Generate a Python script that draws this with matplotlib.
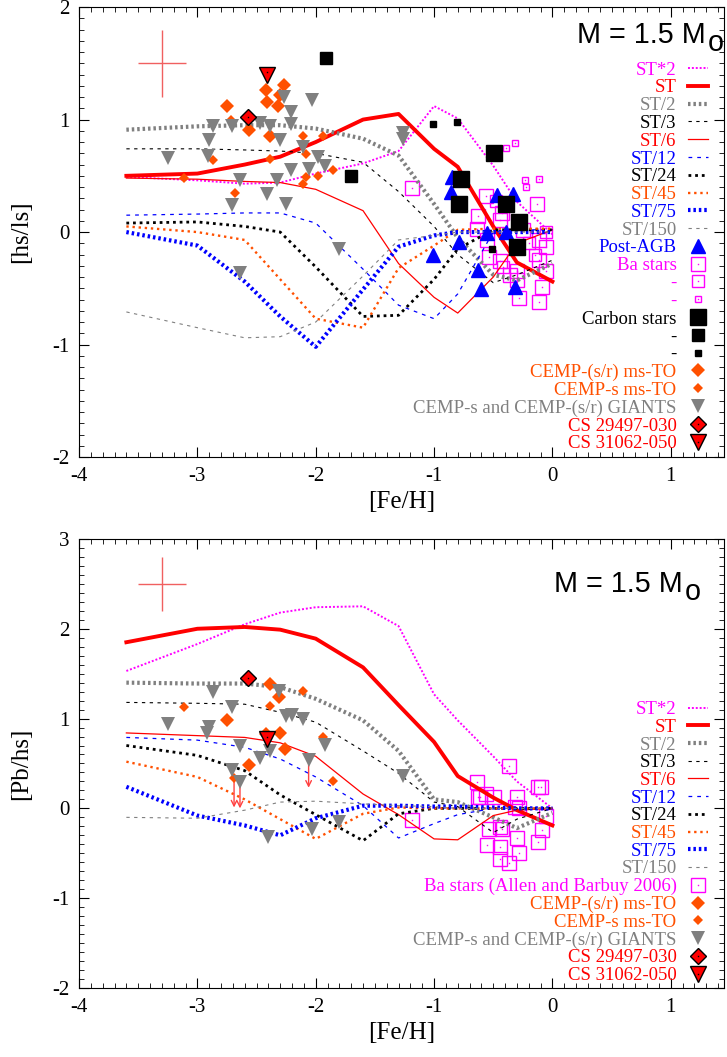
import numpy as np
import matplotlib
matplotlib.use("Agg")
import matplotlib.pyplot as plt

plt.rcParams['font.family'] = ['Liberation Serif', 'DejaVu Serif']
plt.rcParams['axes.unicode_minus'] = False

# model grid in [Fe/H]
feh = [-3.6, -3.0, -2.6, -2.3, -2.0, -1.6, -1.3, -1.0, -0.8, -0.5, -0.3, 0.0]
models = ['ST*2', 'ST', 'ST/2', 'ST/3', 'ST/6', 'ST/12', 'ST/24', 'ST/45', 'ST/75', 'ST/150']

# [hs/ls] models
hsls_st_x2 = [0.49, 0.46, 0.43, 0.44, 0.52, 0.61, 0.72, 1.12, 1.01, 0.59, 0.27, -0.02]
hsls_st = [0.50, 0.52, 0.60, 0.67, 0.80, 1.00, 1.05, 0.74, 0.58, 0.05, -0.27, -0.44]
hsls_st_2 = [0.91, 0.94, 0.95, 0.95, 0.92, 0.83, 0.68, 0.25, -0.05, -0.38, -0.43, -0.28]
hsls_st_3 = [0.74, 0.74, 0.73, 0.72, 0.70, 0.62, 0.36, 0.05, -0.20, -0.45, -0.38, -0.25]
hsls_st_6 = [0.48, 0.47, 0.45, 0.44, 0.38, 0.19, -0.28, -0.58, -0.72, -0.40, -0.10, 0.02]
hsls_st_12 = [0.15, 0.16, 0.17, 0.17, 0.08, -0.33, -0.65, -0.77, -0.55, 0.00, 0.02, 0.02]
hsls_st_24 = [0.08, 0.09, 0.05, 0.00, -0.31, -0.75, -0.74, -0.42, -0.15, 0.02, 0.02, 0.02]
hsls_st_45 = [0.05, 0.00, -0.07, -0.42, -0.77, -0.85, -0.32, -0.12, 0.02, 0.03, 0.03, 0.03]
hsls_st_75 = [0.00, -0.12, -0.44, -0.75, -1.02, -0.51, -0.13, -0.03, 0.00, 0.00, 0.00, 0.00]
hsls_st_150 = [-0.71, -0.85, -0.94, -0.93, -0.80, -0.39, -0.07, -0.03, 0.00, 0.00, 0.00, 0.00]

# [Pb/hs] models
pbhs_st_x2 = [1.53, 1.83, 2.05, 2.18, 2.24, 2.25, 2.03, 1.27, 0.98, 0.58, 0.30, 0.00]
pbhs_st = [1.85, 2.00, 2.02, 1.99, 1.89, 1.57, 1.15, 0.74, 0.36, 0.12, -0.02, -0.19]
pbhs_st_2 = [1.40, 1.39, 1.39, 1.35, 1.22, 0.98, 0.64, 0.10, 0.07, -0.10, -0.22, -0.05]
pbhs_st_3 = [1.18, 1.17, 1.16, 1.07, 0.96, 0.64, 0.39, 0.07, 0.02, -0.27, -0.12, 0.00]
pbhs_st_6 = [0.84, 0.81, 0.79, 0.73, 0.58, 0.16, -0.07, -0.34, -0.35, -0.08, -0.02, 0.00]
pbhs_st_12 = [0.79, 0.76, 0.68, 0.55, 0.35, 0.03, -0.33, -0.17, -0.07, 0.00, 0.00, 0.00]
pbhs_st_24 = [0.70, 0.59, 0.42, 0.15, -0.07, -0.36, -0.06, 0.00, 0.00, 0.00, 0.00, 0.00]
pbhs_st_45 = [0.52, 0.35, 0.10, -0.12, -0.34, -0.06, 0.01, 0.00, 0.00, 0.00, 0.00, 0.00]
pbhs_st_75 = [0.24, -0.08, -0.19, -0.30, -0.11, 0.03, 0.03, 0.02, 0.02, 0.01, 0.00, 0.00]
pbhs_st_150 = [-0.10, -0.11, -0.02, 0.07, 0.08, 0.05, 0.03, 0.02, 0.00, 0.00, 0.00, 0.00]

# ---- observations, top panel [hs/ls]
postagb_x = [-1.01, -0.79, -0.63, -0.60, -0.32, -0.55, -0.39, -0.85, -0.86, -0.47, -0.33]
postagb_y = [-0.20, -0.09, -0.34, -0.51, -0.49, -0.01, 0.00, 0.49, 0.36, 0.33, 0.34]

ba_big_x = [-1.19, -0.56, -0.13, -0.63, -0.43, -0.64, -0.55, -0.44, -0.25, -0.11, -0.05, -0.54,
            -0.44, -0.30, -0.30, -0.11, -0.05, -0.09, -0.28, -0.11, -0.36]
ba_big_y = [0.39, 0.32, 0.25, 0.14, 0.17, 0.03, -0.07, 0.11, 0.02, -0.07, -0.13, -0.22,
            -0.26, -0.35, -0.43, -0.25, -0.35, -0.49, -0.59, -0.62, -0.38]
ba_mid_x = [-0.48, -0.42, -0.20, -0.05, -0.15]
ba_mid_y = [0.28, -0.31, -0.10, 0.00, -0.20]
ba_small_x = [-0.39, -0.32, -0.23, -0.22, -0.11]
ba_small_y = [0.75, 0.79, 0.46, 0.40, 0.47]

carb_big_x = [-0.49, -0.77, -0.79, -0.39, -0.28, -0.30]
carb_big_y = [0.70, 0.47, 0.25, 0.25, 0.09, -0.13]
carb_mid_x = [-1.91, -1.70]
carb_mid_y = [1.55, 0.50]
carb_small_x = [-1.01, -0.81, -0.51]
carb_small_y = [0.96, 0.98, -0.15]

sr_to_x = [-2.75, -2.42, -2.41, -2.27, -2.30, -2.32, -2.56, -2.39]
sr_to_y = [1.12, 1.26, 1.16, 1.31, 1.22, 1.12, 0.91, 0.85]
s_to_x = [-2.72, -2.87, -3.11, -2.68, -2.39, -2.11, -1.94, -2.08, -2.08, -1.98, -1.85, -2.11]
s_to_y = [1.00, 0.64, 0.48, 0.35, 0.65, 0.85, 0.85, 0.69, 0.49, 0.50, 0.55, 0.43]
giant_x = [-2.87, -2.71, -2.47, -2.39, -2.21, -2.21, -2.27, -2.03, -2.90, -3.25, -2.91, -2.30,
           -2.11, -1.98, -1.92, -2.06, -2.21, -2.64, -2.33, -2.41, -2.71, -2.25, -1.80, -2.64,
           -1.26, -1.26]
giant_y = [0.94, 0.94, 0.97, 0.94, 0.96, 1.07, 1.20, 1.17, 0.82, 0.66, 0.68, 0.82,
           0.76, 0.67, 0.59, 0.56, 0.55, 0.46, 0.46, 0.34, 0.24, 0.25, -0.15, -0.36,
           0.88, 0.83]
cs29497_top = (-2.57, 1.02)
cs31062_top = (-2.41, 1.40)
err_top = (-3.30, 1.50, 0.2, 0.3)

# ---- observations, bottom panel [Pb/hs]
ba_pb_x = [-1.19, -0.64, -0.56, -0.63, -0.49, -0.37, -0.30, -0.32, -0.28, -0.12, -0.10, -0.05,
           -0.44, -0.30, -0.12, -0.09, -0.55, -0.44, -0.28, -0.54, -0.43, -0.44, -0.37, -0.61]
ba_pb_y = [-0.13, 0.29, 0.16, 0.13, 0.13, 0.47, 0.13, 0.01, 0.00, 0.24, 0.24, -0.09,
           -0.21, -0.33, -0.37, -0.24, -0.41, -0.43, -0.50, -0.23, -0.23, -0.56, -0.61, 0.13]
sr_to_pb_x = [-2.39, -2.31, -2.75, -2.30, -2.42, -2.26, -2.56]
sr_to_pb_y = [1.39, 1.24, 0.98, 0.84, 0.83, 0.66, 0.48]
s_to_pb_x = [-3.11, -2.11, -2.39, -1.94, -1.85, -2.69]
s_to_pb_y = [1.13, 1.31, 1.14, 0.79, 0.30, 0.34]
giant_pb_x = [-2.87, -2.31, -2.71, -3.25, -2.90, -2.92, -2.25, -2.20, -2.11, -2.64, -2.39, -2.47,
              -1.92, -2.06, -2.71, -2.64, -2.40, -2.03, -1.80, -1.26]
giant_pb_y = [1.30, 1.31, 1.13, 0.94, 0.91, 0.84, 1.03, 1.04, 0.99, 0.70, 0.64, 0.56,
              0.71, 0.54, 0.43, 0.29, -0.32, -0.23, -0.15, 0.36]
cs29497_bot = (-2.57, 1.45)
cs31062_bot = (-2.41, 0.77)
err_bot = (-3.30, 2.50, 0.2, 0.3)
# upper limits: x, from y, to y
lim_x = [-2.69, -2.64, -2.06]
lim_y0 = [0.33, 0.28, 0.53]
lim_y1 = [0.01, 0.00, 0.23]

ORANGE = '#ff5000'
MAG = '#ff00ff'
GRAY = '#808080'

styles = {
    'ST*2': dict(color=MAG, lw=1.4, dashes=(1, 1)),
    'ST': dict(color='red', lw=2.8),
    'ST/2': dict(color=GRAY, lw=3.0, dashes=(0.6, 0.7)),
    'ST/3': dict(color='black', lw=0.8, dashes=(3, 4)),
    'ST/6': dict(color='red', lw=0.9),
    'ST/12': dict(color='blue', lw=0.9, dashes=(3, 4)),
    'ST/24': dict(color='black', lw=2.0, dashes=(1, 1.4)),
    'ST/45': dict(color=ORANGE, lw=1.7, dashes=(1, 1.6)),
    'ST/75': dict(color='blue', lw=3.0, dashes=(0.6, 0.7)),
    'ST/150': dict(color=GRAY, lw=0.8, dashes=(3, 4)),
}
text_col = {'ST*2': MAG, 'ST': 'red', 'ST/2': GRAY, 'ST/3': 'black', 'ST/6': 'red',
            'ST/12': 'blue', 'ST/24': 'black', 'ST/45': ORANGE, 'ST/75': 'blue', 'ST/150': GRAY}

fig = plt.figure(figsize=(7.27, 10.57), dpi=100)
ax1 = fig.add_axes([0.1087, 0.5676, 0.8872, 0.4257])
ax2 = fig.add_axes([0.1087, 0.0653, 0.8872, 0.4248])


def setup(ax, ylo, yhi, ylab):
    ax.set_xlim(-4, 1.45)
    ax.set_ylim(ylo, yhi)
    ax.set_xticks(range(-4, 2))
    ax.set_yticks(range(ylo, yhi + 1))
    ax.set_xticks(np.arange(-4, 1.45, 0.1), minor=True)
    ax.set_yticks(np.arange(ylo, yhi + 0.01, 0.1), minor=True)
    ax.tick_params(which='both', direction='in', top=True, right=True, labelsize=15, pad=7)
    ax.tick_params(which='major', length=7)
    ax.tick_params(which='minor', length=3.5)
    ax.set_xlabel('[Fe/H]', fontsize=18, labelpad=4)
    ax.set_ylabel(ylab, fontsize=18, labelpad=14)


def draw_models(ax, series):
    lines = []
    for name, vals in zip(models, series):
        ln, = ax.plot(feh, vals, zorder=2, **styles[name])
        lines.append(ln)
    return lines


def dotted_squares(ax, x, y, ms):
    sq, = ax.plot(x, y, ls='none', marker='s', ms=ms, mfc='none', mec=MAG, mew=1.0, zorder=1)
    dt, = ax.plot(x, y, ls='none', marker='s', ms=1.0, mfc=MAG, mec=MAG, mew=0, zorder=1)
    return (sq, dt)


def cs_stars(ax, p29, p31):
    d, = ax.plot([p29[0]], [p29[1]], ls='none', marker='D', ms=8.5, mfc='red', mec='black', mew=1, zorder=4)
    d2, = ax.plot([p29[0]], [p29[1]], ls='none', marker='s', ms=1.0, mfc='black', mec='black', mew=0, zorder=5)
    t, = ax.plot([p31[0]], [p31[1]], ls='none', marker='v', ms=12, mfc='red', mec='black', mew=1, zorder=4)
    t2, = ax.plot([p31[0]], [p31[1] + 0.02], ls='none', marker='s', ms=1.0, mfc='black', mec='black', mew=0, zorder=5)
    return (d, d2), (t, t2)


def mass_label(ax, xr, yb, xo, yo):
    ax.text(xr, yb, 'M = 1.5 M', transform=ax.transAxes, ha='right', va='baseline',
            fontsize=20.7, family='Liberation Sans')
    ax.text(xo, yo, 'o', transform=ax.transAxes, ha='left', va='baseline',
            fontsize=20.7, family='Liberation Sans')


# ---------------- top panel
setup(ax1, -2, 2, '[hs/ls]')
ax1.errorbar([err_top[0]], [err_top[1]], xerr=err_top[2], yerr=err_top[3], fmt='none',
             ecolor='#f06060', elinewidth=1.0, capsize=0)
top_lines = draw_models(ax1, [hsls_st_x2, hsls_st, hsls_st_2, hsls_st_3, hsls_st_6, hsls_st_12,
                              hsls_st_24, hsls_st_45, hsls_st_75, hsls_st_150])
h_ba1 = dotted_squares(ax1, ba_big_x, ba_big_y, 10)
h_ba2 = dotted_squares(ax1, ba_mid_x, ba_mid_y, 8)
h_ba3 = dotted_squares(ax1, ba_small_x, ba_small_y, 5)
h_agb, = ax1.plot(postagb_x, postagb_y, ls='none', marker='^', ms=9.5, color='blue', zorder=3)
h_c1, = ax1.plot(carb_big_x, carb_big_y, ls='none', marker='s', ms=11, color='black', zorder=3)
h_c2, = ax1.plot(carb_mid_x, carb_mid_y, ls='none', marker='s', ms=8.5, color='black', zorder=3)
h_c3, = ax1.plot(carb_small_x, carb_small_y, ls='none', marker='s', ms=5, color='black', zorder=3)
h_sr, = ax1.plot(sr_to_x, sr_to_y, ls='none', marker='D', ms=7.5, color=ORANGE, mew=0, zorder=3)
h_s, = ax1.plot(s_to_x, s_to_y, ls='none', marker='D', ms=4.8, color=ORANGE, mew=0, zorder=3)
h_g, = ax1.plot(giant_x, giant_y, ls='none', marker='v', ms=9.5, color=GRAY, mew=0, zorder=3)
h_29, h_31 = cs_stars(ax1, cs29497_top, cs31062_top)
mass_label(ax1, 0.972, 0.9207, 0.975, 0.9029)

handles = top_lines + [h_agb, h_ba1, h_ba2, h_ba3, h_c1, h_c2, h_c3, h_sr, h_s, h_g, h_29, h_31]
labels = models + ['Post-AGB', 'Ba stars', '-', '-', 'Carbon stars', '-', '-', 'CEMP-(s/r) ms-TO',
                   'CEMP-s ms-TO', 'CEMP-s and CEMP-(s/r) GIANTS', 'CS 29497-030', 'CS 31062-050']
colors = [text_col[m] for m in models] + ['blue', MAG, MAG, MAG, 'black', 'black', 'black',
                                          ORANGE, ORANGE, GRAY, 'red', 'red']
ax1.legend(handles, labels, loc='upper right', bbox_to_anchor=(0.975, 0.879), frameon=False,
           markerfirst=False, numpoints=1, fontsize=13.5, labelcolor=colors, borderpad=0,
           borderaxespad=0, handlelength=1.07, handletextpad=0.6, labelspacing=0.035)

# ---------------- bottom panel
setup(ax2, -2, 3, '[Pb/hs]')
ax2.errorbar([err_bot[0]], [err_bot[1]], xerr=err_bot[2], yerr=err_bot[3], fmt='none',
             ecolor='#f06060', elinewidth=1.0, capsize=0)
bot_lines = draw_models(ax2, [pbhs_st_x2, pbhs_st, pbhs_st_2, pbhs_st_3, pbhs_st_6, pbhs_st_12,
                              pbhs_st_24, pbhs_st_45, pbhs_st_75, pbhs_st_150])
h_bab = dotted_squares(ax2, ba_pb_x, ba_pb_y, 9.5)
for lx, ly0, ly1 in zip(lim_x, lim_y0, lim_y1):
    ax2.annotate('', xy=(lx, ly1), xytext=(lx, ly0),
                 arrowprops=dict(arrowstyle='->', color='#ff4040', lw=1.0, shrinkA=0, shrinkB=0),
                 zorder=2)
h_sr2, = ax2.plot(sr_to_pb_x, sr_to_pb_y, ls='none', marker='D', ms=7.5, color=ORANGE, mew=0, zorder=3)
h_s2, = ax2.plot(s_to_pb_x, s_to_pb_y, ls='none', marker='D', ms=4.8, color=ORANGE, mew=0, zorder=3)
h_g2, = ax2.plot(giant_pb_x, giant_pb_y, ls='none', marker='v', ms=9.5, color=GRAY, mew=0, zorder=3)
h_292, h_312 = cs_stars(ax2, cs29497_bot, cs31062_bot)
mass_label(ax2, 0.936, 0.8826, 0.9394, 0.8648)

handles2 = bot_lines + [h_bab, h_sr2, h_s2, h_g2, h_292, h_312]
labels2 = models + ['Ba stars (Allen and Barbuy 2006)', 'CEMP-(s/r) ms-TO', 'CEMP-s ms-TO',
                    'CEMP-s and CEMP-(s/r) GIANTS', 'CS 29497-030', 'CS 31062-050']
colors2 = [text_col[m] for m in models] + [MAG, ORANGE, ORANGE, GRAY, 'red', 'red']
ax2.legend(handles2, labels2, loc='upper right', bbox_to_anchor=(0.975, 0.6388), frameon=False,
           markerfirst=False, numpoints=1, fontsize=13.5, labelcolor=colors2, borderpad=0,
           borderaxespad=0, handlelength=1.07, handletextpad=0.6, labelspacing=0.03)

fig.savefig('out.png', dpi=100)
